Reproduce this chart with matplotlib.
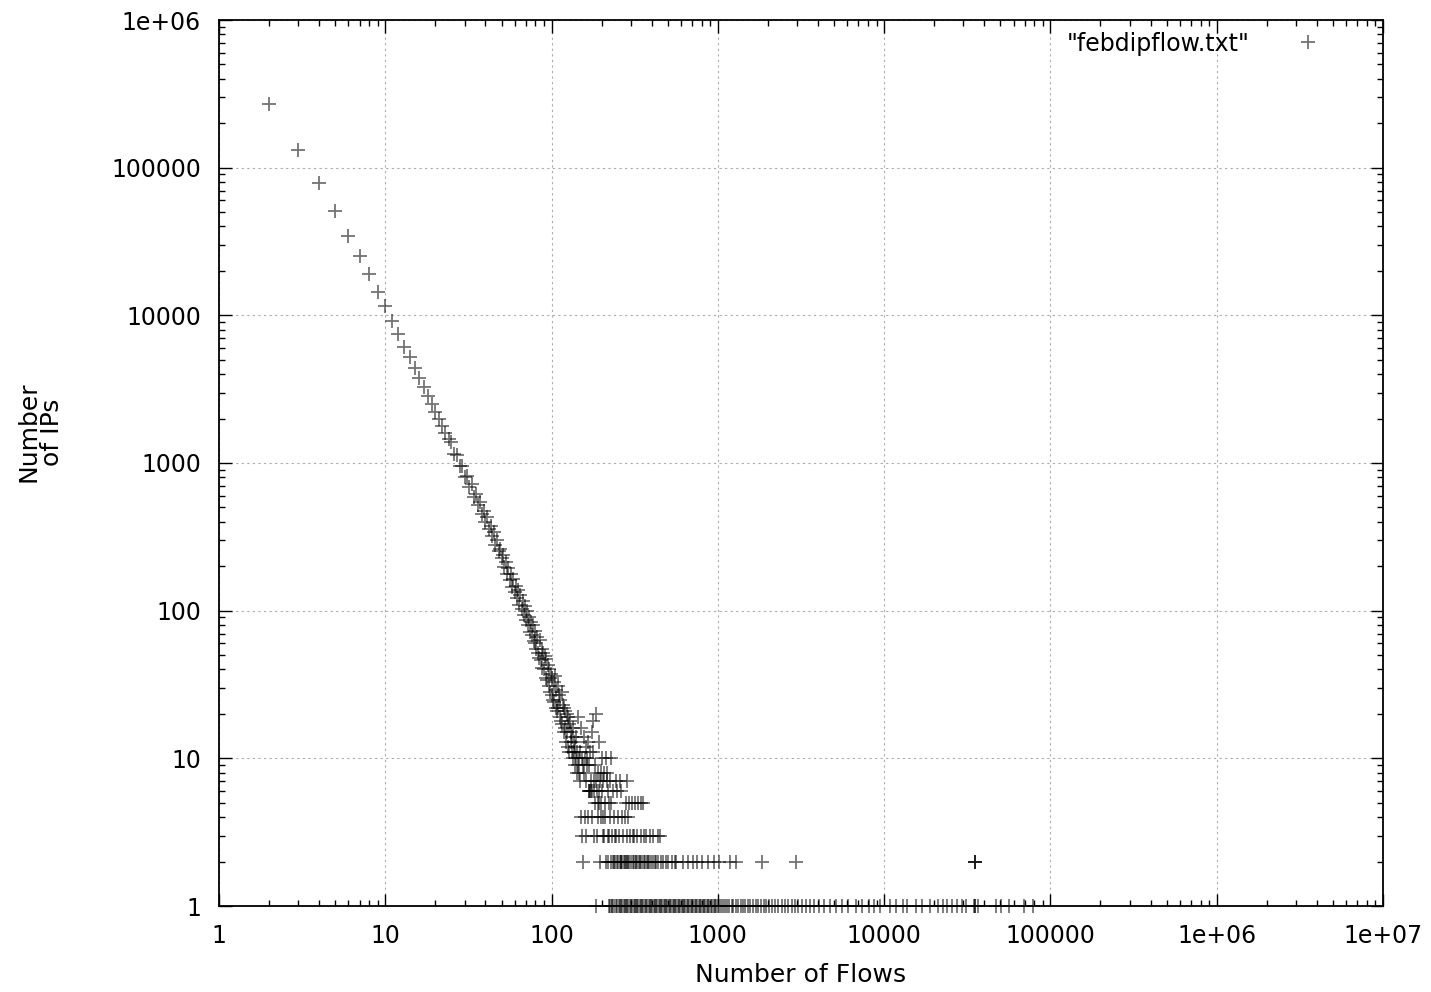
import numpy as np
import matplotlib
matplotlib.use('Agg')
import matplotlib.pyplot as plt
import matplotlib.ticker as ticker

plt.rcParams['font.family'] = ['DejaVu Sans']
plt.rcParams['font.size'] = 17

# number of flows (x) -> number of IPs (y)
flows_head = [2, 3, 4, 5, 6, 7, 8, 9, 10, 11, 12, 13, 14, 15, 16, 17, 18, 19, 20,
              21, 22, 23, 24, 25, 26, 27, 28, 29, 30, 31, 32, 33, 34, 35, 36, 37, 38, 39, 40,
              41, 42, 43, 44, 45, 46, 47, 48, 49, 50, 51, 52, 53, 54, 55, 56, 57, 58, 59, 60,
              61, 62, 63, 64, 65, 66, 67, 68, 69, 70]
ips_head = [270000, 131000, 78500, 50700, 34400, 25200, 19000, 14400, 11500, 9200,
            7500, 6150, 5200, 4400, 3780, 3270, 2850, 2510, 2220,
            1980, 1770, 1600, 1450, 1380, 1150, 1130, 960, 960, 800,
            820, 690, 720, 590, 620, 520, 545, 450, 475, 400,
            430, 355, 375, 318, 340, 280, 300, 255, 262, 228,
            240, 198, 215, 178, 196, 162, 176, 144, 165, 133,
            147, 121, 138, 110, 127, 102, 116, 93, 107, 86]

flows_mid = [71, 72, 73, 74, 75, 76, 77, 78, 79, 80, 81, 82, 83, 84, 85, 86, 87, 88, 89, 90,
             91, 92, 93, 94, 95, 96, 97, 98, 99, 100, 101, 102, 103, 104, 105, 106, 107, 108, 109, 110,
             111, 112, 113, 114, 115, 116, 117, 118, 119, 120, 121, 122, 123, 124, 125, 126, 127, 128, 129, 130,
             131, 132, 133, 134, 135, 136, 137, 138, 139, 140, 141, 142, 143, 144, 145, 146, 147, 148, 149, 150,
             151, 152, 153, 154, 155, 156, 157, 158, 159, 160, 161, 162, 163, 164, 165, 166, 167, 168, 169, 170,
             171, 172, 173, 174, 175, 176, 177, 178, 179, 180, 181, 182, 183, 184, 185, 186, 187, 188, 189, 190,
             191, 192, 193, 194, 195, 196, 197, 198, 199, 200]
ips_mid = [99, 80, 90, 72, 84, 68, 80, 62, 60, 73, 55, 66, 52, 48, 63, 46, 55, 41, 52, 40,
           49, 35, 47, 34, 43, 31, 40, 28, 37, 27, 35, 25, 33, 24, 36, 22, 29, 21, 31, 22,
           27, 19, 25, 18, 28, 17, 23, 15, 22, 16, 21, 13, 20, 15, 19, 12, 17, 11, 18, 13,
           15, 11, 14, 10, 16, 11, 13, 9, 12, 10, 14, 8, 11, 9, 19, 8, 10, 7, 11, 16,
           4, 3, 10, 2, 9, 8, 14, 4, 10, 3, 12, 7, 9, 10, 4, 13, 6, 9, 6, 11,
           6, 7, 6, 15, 4, 6, 11, 18, 7, 3, 6, 5, 9, 1, 7, 20, 6, 3, 5, 8,
           4, 6, 13, 5, 2, 7, 4, 8, 5, 10]

flows_tail = [202, 203, 204, 205, 206, 207, 209, 211, 212, 214, 216, 217, 218, 221, 222, 224,
              226, 228, 229, 231, 233, 238, 240, 243, 245, 247, 250, 255, 259, 262, 264, 270,
              276, 280, 283, 284, 289, 292, 298, 305, 309, 312, 318, 327, 330, 345, 346, 355,
              362, 371, 392, 410, 435, 448]
ips_tail = [6, 4, 7, 3, 3, 8, 5, 4, 10, 8, 7, 3, 6, 5, 3, 4,
            7, 10, 5, 3, 6, 4, 3, 3, 7, 6, 4, 3, 7, 6, 4, 3,
            4, 5, 3, 7, 4, 5, 3, 5, 3, 3, 5, 3, 5, 3, 5, 5,
            3, 3, 3, 3, 3, 3]

# flows with exactly two IPs
flows_two = [213, 219, 227, 234, 237, 241, 246, 251, 257, 260, 263, 267, 272, 275, 279, 285,
             288, 293, 301, 307, 314, 320, 323, 331, 338, 342, 349, 358, 366, 373, 379, 386,
             397, 405, 417, 426, 438, 452, 467, 489, 503, 528, 549, 563, 621, 664, 705, 752,
             801, 870, 952, 1010, 1180, 1290, 1840, 2960, 35200, 35200, 35200]

# flows with a single IP
flows_one = [220, 225, 230, 232, 236, 244, 249, 253, 258, 261, 266, 271, 277, 281, 286, 290,
             295, 300, 306, 311, 317, 322, 328, 333, 339, 344, 351, 357, 363, 370, 376, 383,
             390, 396, 403, 411, 418, 425, 432, 440, 447, 456, 464, 472, 480, 488, 497, 506,
             515, 524, 534, 543, 553, 561, 573, 583, 594, 605, 616, 627, 638, 650, 662, 674,
             686, 699, 712, 725, 738, 751, 766, 780, 795, 810, 825, 841, 857, 873, 890, 907,
             925, 943, 961, 980, 999, 1012, 1040, 1070, 1100, 1130, 1170, 1210, 1240, 1280,
             1320, 1370, 1410, 1460, 1520, 1570, 1620, 1690, 1750, 1820, 1890, 1960, 2040,
             2130, 2210, 2300, 2420, 2530, 2650, 2780, 2900, 3050, 3210, 3380, 3560, 3800,
             4050, 4350, 4700, 5100, 5600, 6050, 6800, 7400, 8100, 8700, 9500, 10900, 11800,
             13000, 13800, 15600, 17000, 19000, 21000, 22500, 24000, 25500, 27500, 29500,
             31000, 34500, 35200, 35200, 36500, 47000, 50500, 56000, 69000, 79000]

x = np.concatenate([flows_head, flows_mid, flows_tail, flows_two, flows_one])
y = np.concatenate([ips_head, ips_mid, ips_tail,
                    np.full(len(flows_two), 2), np.full(len(flows_one), 1)])

fig = plt.figure(figsize=(14.31, 9.92), dpi=100)
ax = fig.add_axes([219/1431, 1-906/992, (1383-219)/1431, (906-20)/992])

ax.plot(x, y, linestyle='none', marker='+', markersize=10.5, markeredgewidth=1.3,
        color='black', alpha=0.55, clip_on=False, label='"febdipflow.txt"')

ax.set_xscale('log')
ax.set_yscale('log')
ax.set_xlim(1, 1e7)
ax.set_ylim(1, 1e6)

fmt = ticker.FuncFormatter(lambda v, p: '%g' % v)
ax.xaxis.set_major_locator(ticker.LogLocator(base=10, numticks=20))
ax.yaxis.set_major_locator(ticker.LogLocator(base=10, numticks=20))
ax.xaxis.set_minor_locator(ticker.LogLocator(base=10, subs=np.arange(2, 10), numticks=100))
ax.yaxis.set_minor_locator(ticker.LogLocator(base=10, subs=np.arange(2, 10), numticks=100))
ax.xaxis.set_major_formatter(fmt)
ax.yaxis.set_major_formatter(fmt)
ax.xaxis.set_minor_formatter(ticker.NullFormatter())
ax.yaxis.set_minor_formatter(ticker.NullFormatter())

ax.tick_params(which='both', direction='in', top=True, right=True, width=1, labelsize=17)
ax.tick_params(which='major', length=9)
ax.tick_params(which='minor', length=4.5)
ax.tick_params(axis='x', pad=13)
ax.tick_params(axis='y', pad=13)

ax.grid(True, which='major', linestyle=(0, (2, 3)), color='#aaaaaa', linewidth=0.8)
for s in ax.spines.values():
    s.set_linewidth(1.3)

ax.legend(loc='upper right', bbox_to_anchor=(0.9459, 0.987), markerfirst=False,
          frameon=False, handlelength=1.0, handletextpad=2.0, borderpad=0,
          borderaxespad=0, fontsize=17)

fig.text(801/1431, 1-975/992, 'Number of Flows', ha='center', va='center', fontsize=18)
fig.text(40/1431, 1-432/992, 'Number\nof IPs', ha='center', va='center',
         rotation=90, multialignment='center', fontsize=18, linespacing=1.0)

fig.savefig('out.png', dpi=100)
